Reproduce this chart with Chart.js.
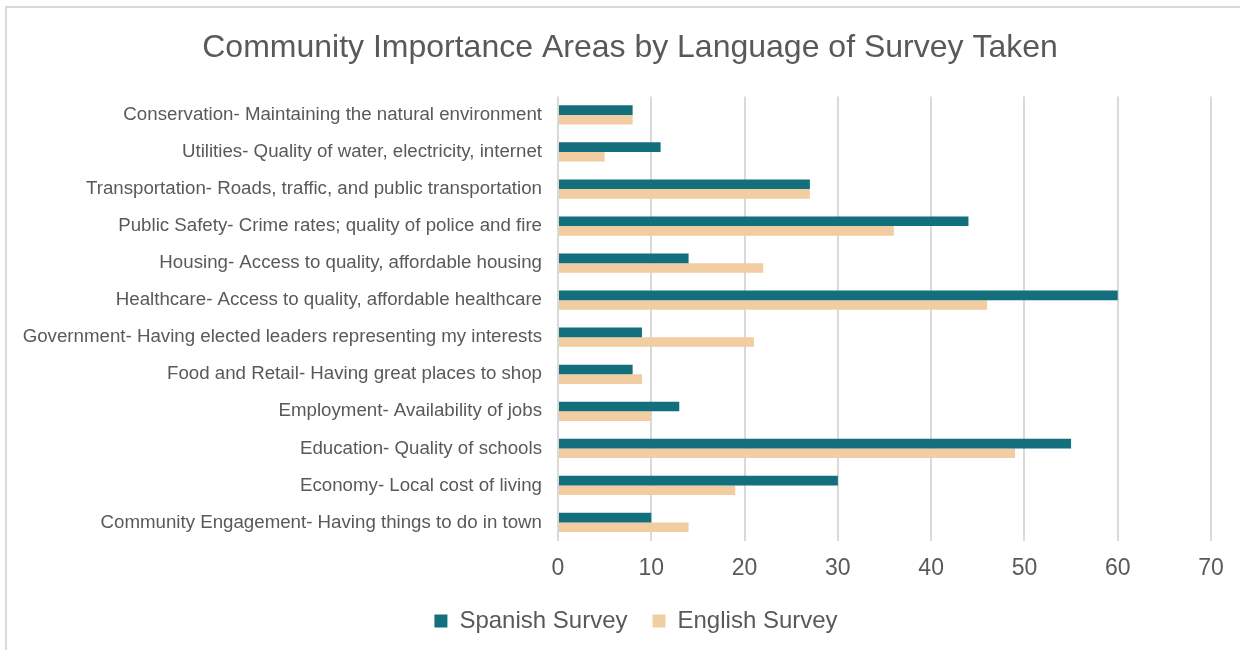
<!DOCTYPE html>
<html>
<head>
<meta charset="utf-8">
<script src="https://cdn.jsdelivr.net/npm/chart.js@4.4.1/dist/chart.umd.min.js"></script>
<style>
  html, body { margin: 0; padding: 0; background: #ffffff; }
  #wrap { position: relative; width: 1240px; height: 650px; overflow: hidden; }
  #frame { position: absolute; left: 5px; top: 6px; width: 1300px; height: 700px;
           border: 2px solid #d9d9d9; box-sizing: border-box; pointer-events: none; }
  canvas { position: absolute; left: 0; top: 0; }
</style>
</head>
<body>
<div id="wrap">
  <canvas id="chart" width="1240" height="650"></canvas>
  <div id="frame"></div>
</div>
<script>
const categories = [
  "Conservation- Maintaining the natural environment",
  "Utilities- Quality of water, electricity, internet",
  "Transportation- Roads, traffic, and public transportation",
  "Public Safety- Crime rates; quality of police and fire",
  "Housing- Access to quality, affordable housing",
  "Healthcare- Access to quality, affordable healthcare",
  "Government- Having elected leaders representing my interests",
  "Food and Retail- Having great places to shop",
  "Employment- Availability of jobs",
  "Education- Quality of schools",
  "Economy- Local cost of living",
  "Community Engagement- Having things to do in town"
];
const spanishSurvey = [8, 11, 27, 44, 14, 60, 9, 8, 13, 55, 30, 10];
const englishSurvey = [8, 5, 27, 36, 22, 46, 21, 9, 10, 49, 19, 14];
const xTicks = [0, 10, 20, 30, 40, 50, 60, 70];

const FONT = "'Liberation Sans', Arial, sans-serif";
const TEXT = "#595959";

// Centre the title and legend over the frame rather than over the padded layout box.
const blockSpan = {
  id: "blockSpan",
  afterLayout(chart) {
    const tb = chart.titleBlock;
    if (tb) { tb.left = 49; tb.right = 1211; tb.width = tb.right - tb.left; }
    const lg = chart.legend;
    if (lg) { lg.left = 61; lg.right = 1211; lg.width = lg.right - lg.left; }
  }
};

new Chart(document.getElementById("chart"), {
  type: "bar",
  data: {
    labels: categories,
    datasets: [
      { label: "Spanish Survey", data: spanishSurvey, backgroundColor: "#136f7c",
        categoryPercentage: 0.52, barPercentage: 1.0 },
      { label: "English Survey", data: englishSurvey, backgroundColor: "#f1cda1",
        categoryPercentage: 0.52, barPercentage: 1.0 }
    ]
  },
  plugins: [blockSpan],
  options: {
    indexAxis: "y",
    responsive: false,
    animation: false,
    layout: { padding: { left: 0, right: 29, top: 0, bottom: 7 } },
    plugins: {
      title: {
        display: true,
        text: "Community Importance Areas by Language of Survey Taken",
        color: TEXT,
        font: { family: FONT, size: 32, weight: "normal" },
        padding: { top: 29, bottom: 29 }
      },
      legend: {
        position: "bottom",
        labels: {
          color: TEXT,
          font: { family: FONT, size: 24 },
          boxWidth: 13,
          boxHeight: 13,
          padding: 25
        }
      },
      tooltip: { enabled: false }
    },
    scales: {
      x: {
        min: 0,
        max: 70,
        afterBuildTicks: (scale) => { scale.ticks = xTicks.map(v => ({ value: v })); },
        grid: { color: "#d9d9d9", lineWidth: 2, drawTicks: false },
        border: { display: false },
        ticks: { color: TEXT, font: { family: FONT, size: 23 }, padding: 14 },
        afterFit: (scale) => { scale.height = 43; }
      },
      y: {
        grid: { display: false, drawTicks: false },
        border: { display: false },
        ticks: { color: TEXT, font: { family: FONT, size: 18.7 }, padding: 16, autoSkip: false },
        afterFit: (scale) => { scale.width = 558; }
      }
    }
  }
});
</script>
</body>
</html>
